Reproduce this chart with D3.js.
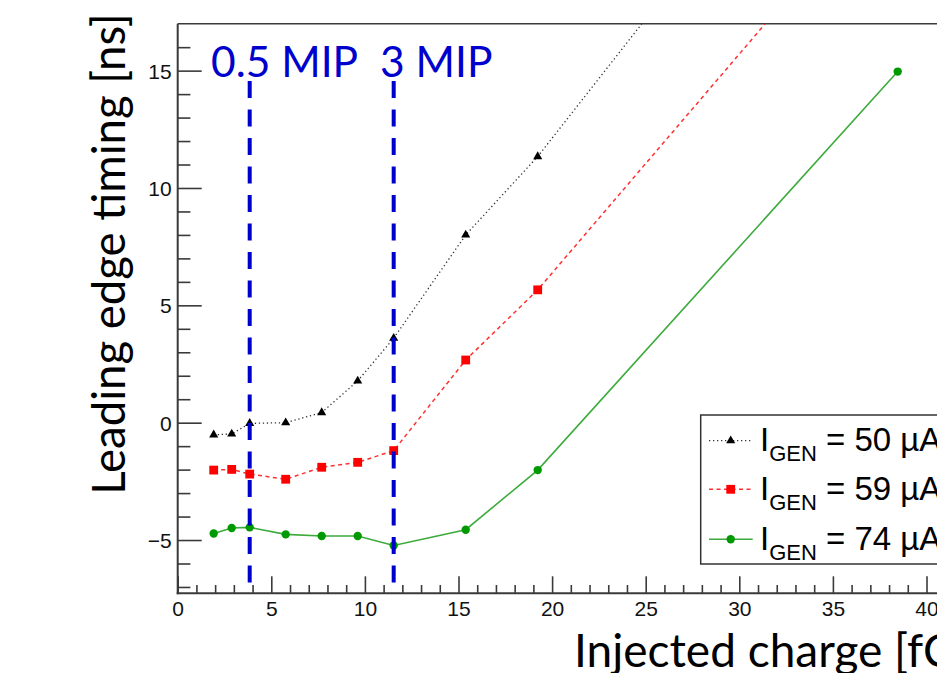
<!DOCTYPE html>
<html>
<head>
<meta charset="utf-8">
<script src="https://cdn.jsdelivr.net/npm/d3@7"></script>
<style>
  html, body { margin: 0; padding: 0; background: #fff; overflow: hidden; }
  svg { display: block; }
</style>
</head>
<body>
<svg id="chart" width="937" height="673"></svg>
<script>
// ---- data ----
const charge = [1.923, 2.885, 3.846, 5.769, 7.692, 9.615, 11.538, 15.385, 19.231, 38.462];
const t50 = [-0.52, -0.48, -0.03, 0.0, 0.43, 1.78, 3.6, 8.0, 11.34, 30.9];
const t59 = [-2.02, -1.99, -2.19, -2.41, -1.90, -1.69, -1.19, 2.67, 5.66, 23.6];
const t74 = [-4.72, -4.49, -4.46, -4.76, -4.83, -4.83, -5.23, -4.56, -2.02, 14.96];
const seriesNames = ["50", "59", "74"];
const mipX = [3.846, 11.538];
const mipLabels = ["0.5 MIP", "3 MIP"];
const xMajorTicks = [0, 5, 10, 15, 20, 25, 30, 35, 40];
const yMajorTicks = [-5, 0, 5, 10, 15];
const xTitle = "Injected charge [fC]";
const yTitle = "Leading edge timing [ns]";

// ---- layout ----
const svg = d3.select("#chart");
const pLeft = 177.7, pTop = 23.7, pBottom = 593.3;
const pxPerX = 18.72;
const xMax = 45;
const pRight = pLeft + xMax * pxPerX;

const x = d3.scaleLinear().domain([0, xMax]).range([pLeft, pRight]);
const y = d3.scaleLinear().domain([-7.27, 17.0]).range([pBottom, pTop]);

svg.append("rect").attr("width", 937).attr("height", 673).attr("fill", "#fff");

svg.append("defs").append("clipPath").attr("id", "frameClip")
  .append("rect").attr("x", pLeft).attr("y", pTop)
  .attr("width", pRight - pLeft).attr("height", pBottom - pTop);

const axisColor = "#3a3a3a";
const tickFont = "'Liberation Sans', Arial, Helvetica, sans-serif";
const slideFont = "Lato, 'Open Sans', sans-serif";

// minor ticks
const xMinor = d3.range(0, xMax + 0.001, 1).filter(v => v % 5 !== 0);
const yMinor = d3.range(-7, 17, 1).filter(v => v % 5 !== 0);

const gx = svg.append("g").attr("transform", `translate(0,${pBottom})`);
gx.call(d3.axisBottom(x).tickValues(xMinor).tickSize(-8.3).tickFormat(""));
gx.append("g").call(d3.axisBottom(x).tickValues(xMajorTicks).tickSizeInner(-17).tickSizeOuter(0)
  .tickPadding(6).tickFormat(d3.format("d")));
gx.selectAll(".domain").remove();
gx.selectAll("line").attr("stroke", axisColor).attr("stroke-width", 1.6);
gx.selectAll("text").attr("font-family", tickFont).attr("font-size", 21).attr("fill", "#111")
  .attr("dy", null).attr("y", 23);

const gy = svg.append("g").attr("transform", `translate(${pLeft},0)`);
gy.call(d3.axisLeft(y).tickValues(yMinor).tickSize(-12.7).tickFormat(""));
gy.append("g").call(d3.axisLeft(y).tickValues(yMajorTicks).tickSizeInner(-24).tickSizeOuter(0)
  .tickPadding(6).tickFormat(d => d < 0 ? "\u2212" + Math.abs(d) : String(d)));
gy.selectAll(".domain").remove();
gy.selectAll("line").attr("stroke", axisColor).attr("stroke-width", 1.6);
gy.selectAll("text").attr("font-family", tickFont).attr("font-size", 21).attr("fill", "#111")
  .attr("dy", "0.36em");

// frame lines
svg.append("line").attr("x1", pLeft).attr("x2", pRight).attr("y1", pTop).attr("y2", pTop)
  .attr("stroke", axisColor).attr("stroke-width", 1.5);
svg.append("line").attr("x1", pLeft).attr("x2", pLeft).attr("y1", pTop).attr("y2", pBottom + 1)
  .attr("stroke", axisColor).attr("stroke-width", 2);
svg.append("line").attr("x1", pLeft - 1).attr("x2", pRight).attr("y1", pBottom).attr("y2", pBottom)
  .attr("stroke", axisColor).attr("stroke-width", 2);

// ---- series ----
const series = [
  { vals: t50, line: "#333", width: 1.3, dash: "1.3,2.7", marker: "triangle", fill: "#000" },
  { vals: t59, line: "#ff3030", width: 1.5, dash: "4,3.5", marker: "square", fill: "#ff0000" },
  { vals: t74, line: "#3daa3d", width: 1.6, dash: null, marker: "circle", fill: "#009900" }
];

const plot = svg.append("g").attr("clip-path", "url(#frameClip)");
const lineGen = d3.line().x(d => x(d[0])).y(d => y(d[1]));

function drawMarker(g, type, cx, cy, fill) {
  if (type === "triangle") {
    g.append("path").attr("d", d3.symbol().type(d3.symbolTriangle).size(36)())
      .attr("transform", `translate(${cx},${cy})`).attr("fill", fill);
  } else if (type === "square") {
    g.append("rect").attr("x", cx - 4.4).attr("y", cy - 4.4).attr("width", 8.8).attr("height", 8.8)
      .attr("fill", fill);
  } else {
    g.append("circle").attr("cx", cx).attr("cy", cy).attr("r", 4.2).attr("fill", fill);
  }
}

series.forEach(s => {
  const pts = charge.map((c, i) => [c, s.vals[i]]);
  plot.append("path").attr("d", lineGen(pts)).attr("fill", "none")
    .attr("stroke", s.line).attr("stroke-width", s.width)
    .attr("stroke-dasharray", s.dash);
  pts.forEach(p => drawMarker(plot, s.marker, x(p[0]), y(p[1]), s.fill));
});

// ---- MIP lines ----
const blue = "#0000cc";
mipX.forEach((mx, i) => {
  svg.append("line").attr("x1", x(mx)).attr("x2", x(mx)).attr("y1", 81).attr("y2", pBottom)
    .attr("stroke", blue).attr("stroke-width", 4).attr("stroke-dasharray", "17,11.5");
});
svg.append("text").attr("x", 211).attr("y", 77.3).attr("font-family", slideFont)
  .attr("font-size", 42.5).attr("fill", blue).text(mipLabels[0]);
svg.append("text").attr("x", 380).attr("y", 77.3).attr("font-family", slideFont)
  .attr("font-size", 42.5).attr("fill", blue).text(mipLabels[1]);

// ---- legend ----
const lg = svg.append("g");
lg.append("rect").attr("x", 700.7).attr("y", 415).attr("width", 280).attr("height", 149)
  .attr("fill", "#fff").attr("stroke", "#333").attr("stroke-width", 1.5);
const rowY = [440.7, 489.3, 539.3];
series.forEach((s, i) => {
  const ry = rowY[i];
  lg.append("line").attr("x1", 709).attr("x2", 752.7).attr("y1", ry).attr("y2", ry)
    .attr("stroke", s.line).attr("stroke-width", s.width).attr("stroke-dasharray", s.dash);
  drawMarker(lg, s.marker, 730.7, ry, s.fill);
  const t = lg.append("text").attr("x", 760).attr("y", ry + 10.5)
    .attr("font-family", tickFont).attr("font-size", 33).attr("fill", "#000");
  t.append("tspan").text("I");
  t.append("tspan").attr("font-size", 22).attr("dy", 10).text("GEN");
  t.append("tspan").attr("dy", -10).text(" = " + seriesNames[i] + " \u00b5A");
});

// ---- axis titles ----
svg.append("text").attr("transform", `translate(125,254) rotate(-90)`)
  .attr("text-anchor", "middle").attr("font-family", slideFont)
  .attr("font-size", 45.5).attr("fill", "#000").text(yTitle);
svg.append("text").attr("x", 574).attr("y", 667)
  .attr("font-family", slideFont)
  .attr("font-size", 46).attr("fill", "#000").text(xTitle);
</script>
</body>
</html>
